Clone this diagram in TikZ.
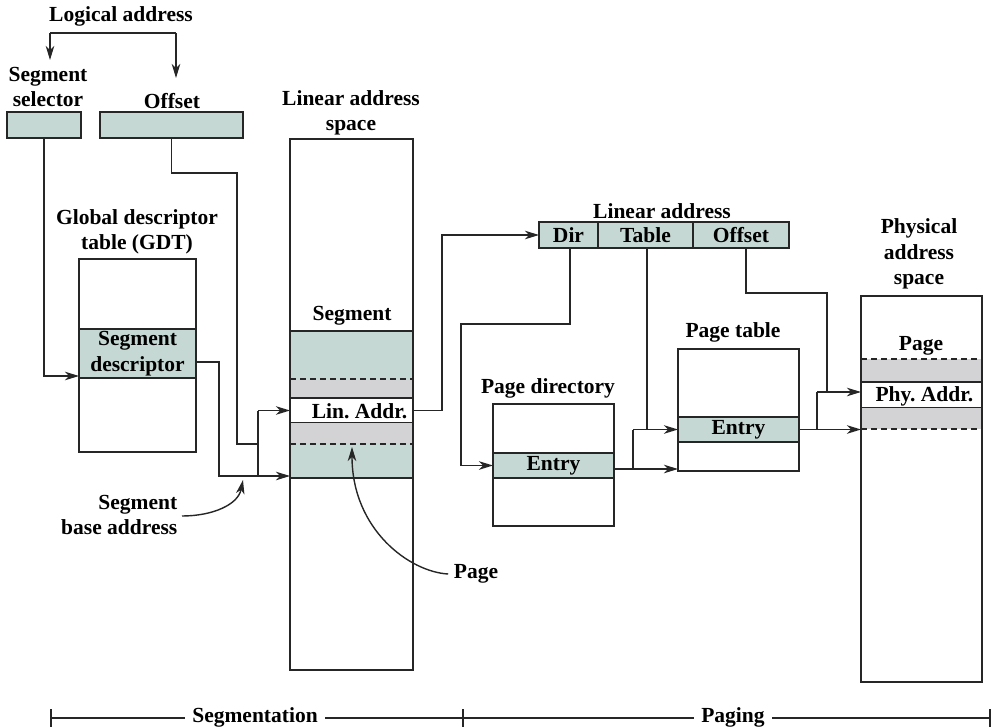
\documentclass[tikz,border=0pt]{standalone}
\usepackage{fontspec}
\setmainfont{Liberation Serif}
\usetikzlibrary{arrows.meta}
\definecolor{tealf}{HTML}{C6D8D4}
\definecolor{grayf}{HTML}{D3D3D5}
\definecolor{linec}{HTML}{262626}
\begin{document}
\begin{tikzpicture}[x=1pt,y=-1pt,color=linec,line width=1.4pt,
  font=\fontsize{21.5}{25.5}\selectfont\bfseries\frenchspacing,
  box/.style={draw,line width=1.4pt,inner sep=0pt,outer sep=0pt},
  band/.style={inner sep=0pt,outer sep=0pt},
  lbl/.style={align=center,inner sep=0pt,text=black},
  arr/.style={-{Stealth[length=14pt,width=8.5pt,inset=4pt]}},
  dsh/.style={dash pattern=on 6pt off 4pt}]
\useasboundingbox (0,0) rectangle (994,728);

% ---------- logical address ----------
\node[lbl] (logaddr) at (121,16) {Logical address};
\node[lbl] (sellbl) at (48,87) {Segment\\selector};
\node[lbl] (offlbl) at (172,101) {Offset};
\coordinate (brL) at (50,33);
\coordinate (brR) at (176,33);
\draw (brL) -- (brR);
\draw[arr] (brL) -- ++(0,27);
\draw[arr] (brR) -- ++(0,45);
\node[box,fill=tealf,minimum width=74,minimum height=26] (selbox) at (44,125) {};
\node[box,fill=tealf,minimum width=143,minimum height=26] (offbox) at (171.5,125) {};

% ---------- GDT ----------
\node[lbl] (gdtlbl) at (137,232) {Global descriptor\\table (GDT)};
\node[box,minimum width=117,minimum height=193] (gdt) at (137.5,355.5) {};
\node[box,fill=tealf,minimum width=117,minimum height=49,align=center,text=black] (segdesc) at (137.5,353.5) {Segment\\descriptor};

% ---------- linear address space ----------
\node[lbl] (linlbl) at (351,113) {Linear address\\space};
\node[lbl] (seglbl) at (352,316) {Segment};
\node[band,fill=tealf,minimum width=123,minimum height=48] (segA) at (351.5,355) {};
\node[band,fill=grayf,minimum width=123,minimum height=19] (grA) at (351.5,388.5) {};
\node[box,fill=white,minimum width=123,minimum height=25] (linad) at (351.5,410.5) {};
\node[band,fill=grayf,minimum width=123,minimum height=21] (grB) at (351.5,433.5) {};
\node[band,fill=tealf,minimum width=123,minimum height=34] (segB) at (351.5,461) {};
\draw (segA.north west) -- (segA.north east);
\draw[dsh] (segA.south west) -- (segA.south east);
\draw[dsh] (segB.north west) -- (segB.north east);
\draw (segB.south west) -- (segB.south east);
\node[lbl,anchor=east] (linadt) at (408,411) {Lin. Addr.};
\node[box,minimum width=123,minimum height=531] (linsp) at (351.5,404.5) {};

% ---------- segmentation connectors ----------
\coordinate (gdtin) at (79,376);
\draw[arr] (selbox.south) |- (gdtin);
\coordinate (jA) at (258,410.5);
\coordinate (jB) at (258,476);
\coordinate (segin) at (290,476);
\draw (offbox.south) |- (237,173) |- (258,444);
\draw (jA) -- (jB);
\draw[arr] (jA) -- (linad.west);
\draw[arr] ([yshift=-8.5pt]segdesc.east) -| (219,476) -- (segin);

\node[lbl,anchor=east,align=right] (sbalbl) at (178,515) {Segment\\base address};
\coordinate (sbatip) at (243,480);
\draw[arr] ([xshift=4pt,yshift=-1pt]sbalbl.east) .. controls (212,516) and (238,505) .. (sbatip);

\node[lbl] (pagelbl) at (476,574) {Page};
\coordinate (pgtip) at (352,447);
\draw[arr] ([xshift=-5pt]pagelbl.west) .. controls (410,572) and (352,530) .. (pgtip);

% ---------- paging: linear address ----------
\node[lbl] (la2lbl) at (662,211) {Linear address};
\node[box,fill=tealf,minimum width=59,minimum height=26,text=black] (dir) at (568.5,235) {Dir};
\node[box,fill=tealf,minimum width=95,minimum height=26,text=black] (tbl) at (645.5,235) {Table};
\node[box,fill=tealf,minimum width=96,minimum height=26,text=black] (offs) at (741,235) {Offset};
\draw[arr] (linad.east) -- ++(29,0) |- (dir.west);

% ---------- page directory ----------
\node[lbl] (pdlbl) at (548,388) {Page directory};
\node[box,minimum width=121,minimum height=122] (pdir) at (553.5,465) {};
\node[box,fill=tealf,minimum width=121,minimum height=25,text=black] (pdentry) at (553.5,465.5) {Entry};
\draw[arr] ([xshift=1.5pt]dir.south) |- (461,324) |- (pdentry.west);

% ---------- page table ----------
\node[lbl] (ptlbl) at (733,332) {Page table};
\node[box,minimum width=121,minimum height=122] (ptab) at (738.5,410) {};
\node[box,fill=tealf,minimum width=121,minimum height=25,text=black] (ptentry) at (738.5,429.5) {Entry};
\coordinate (jC) at (633,429.5);
\coordinate (jD) at (633,469);
\coordinate (ptin) at (678,469);
\draw ([xshift=1.5pt]tbl.south) -- ([xshift=1.5pt]tbl.south |- ptentry.west);
\draw (jC) -- (jD);
\draw[arr] (jC) -- (ptentry.west);
\draw[arr] ([yshift=-3.5pt]pdentry.east) -- (ptin);

% ---------- physical address space ----------
\node[lbl] (physlbl) at (919,254) {Physical\\address\\space};
\node[lbl] (pglbl2) at (921,346) {Page};
\node[band,fill=grayf,minimum width=121,minimum height=23] (grC) at (921.5,370.5) {};
\node[box,fill=white,minimum width=121,minimum height=26] (phyad) at (921.5,395) {};
\node[band,fill=grayf,minimum width=121,minimum height=21] (grD) at (921.5,418.5) {};
\draw[dsh] (grC.north west) -- (grC.north east);
\draw[dsh] (grD.south west) -- (grD.south east);
\node[lbl,anchor=east] (phyadt) at (974,396) {Phy. Addr.};
\node[box,minimum width=121,minimum height=386] (phys) at (921.5,489) {};

\coordinate (jE) at (817,392);
\coordinate (jF) at (817,429.5);
\coordinate (phin1) at (861,392);
\coordinate (phin2) at (861,429.5);
\draw ([xshift=5pt]offs.south) |- (827,293) -- (827,392);
\draw (jE) -- (jF);
\draw[arr] (jE) -- (phin1);
\draw[arr] (ptentry.east) -- (phin2);

% ---------- bottom bar ----------
\coordinate (tL) at (51,718);
\coordinate (tM) at (463,718);
\coordinate (tR) at (990,718);
\node[lbl,inner xsep=7pt] (segm) at (255,717) {Segmentation};
\node[lbl,inner xsep=7pt] (pag) at (733,717) {Paging};
\draw (tL) -- (segm.west |- tL);
\draw (segm.east |- tM) -- (tM) -- (pag.west |- tM);
\draw (pag.east |- tR) -- (tR);
\draw ([yshift=9pt]tL) -- ([yshift=-9pt]tL);
\draw ([yshift=9pt]tM) -- ([yshift=-9pt]tM);
\draw ([yshift=9pt]tR) -- ([yshift=-9pt]tR);
\end{tikzpicture}
\end{document}
